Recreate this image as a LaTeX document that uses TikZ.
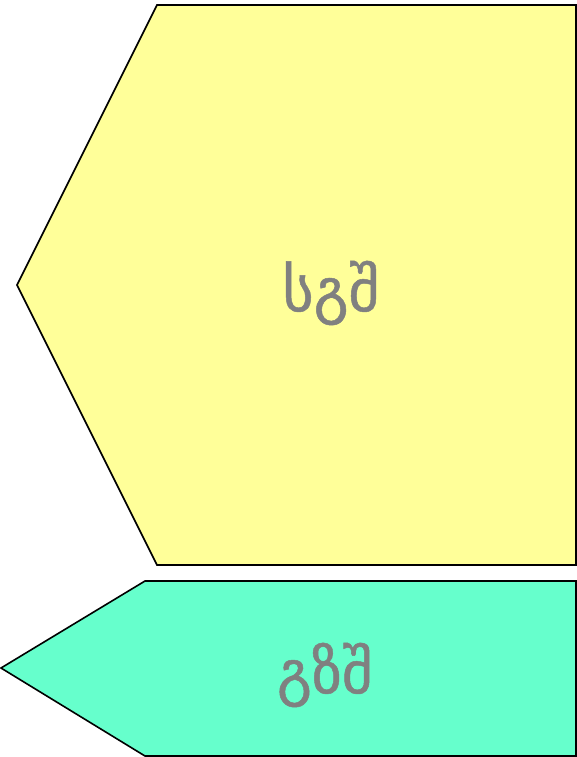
\documentclass[tikz,border=0pt]{standalone}
\usepackage{fontspec}
\newfontfamily\geo[FakeBold=0.8]{DejaVu Sans}
\definecolor{pyellow}{HTML}{FFFF99}
\definecolor{pgreen}{HTML}{66FFCC}
\definecolor{tgray}{HTML}{808080}
\tikzset{
  shapebox/.style={draw=black, line width=1.6pt, line join=miter},
  lbl/.style={text=tgray, font=\geo\fontsize{60}{66}\selectfont, inner sep=0pt}
}
\begin{document}
\begin{tikzpicture}[x=1pt,y=-1pt]
\useasboundingbox (0,0) rectangle (577,757);
\filldraw[shapebox, fill=pyellow] (157,5) -- (576,5) -- (576,565) -- (157,565) -- (17,285) -- cycle;
\filldraw[shapebox, fill=pgreen] (145,581) -- (576,581) -- (576,756) -- (145,756) -- (1,668) -- cycle;
\node[lbl] (a) at (331,293) {სგშ};
\node[lbl] (b) at (325,675) {გზშ};
\end{tikzpicture}
\end{document}
